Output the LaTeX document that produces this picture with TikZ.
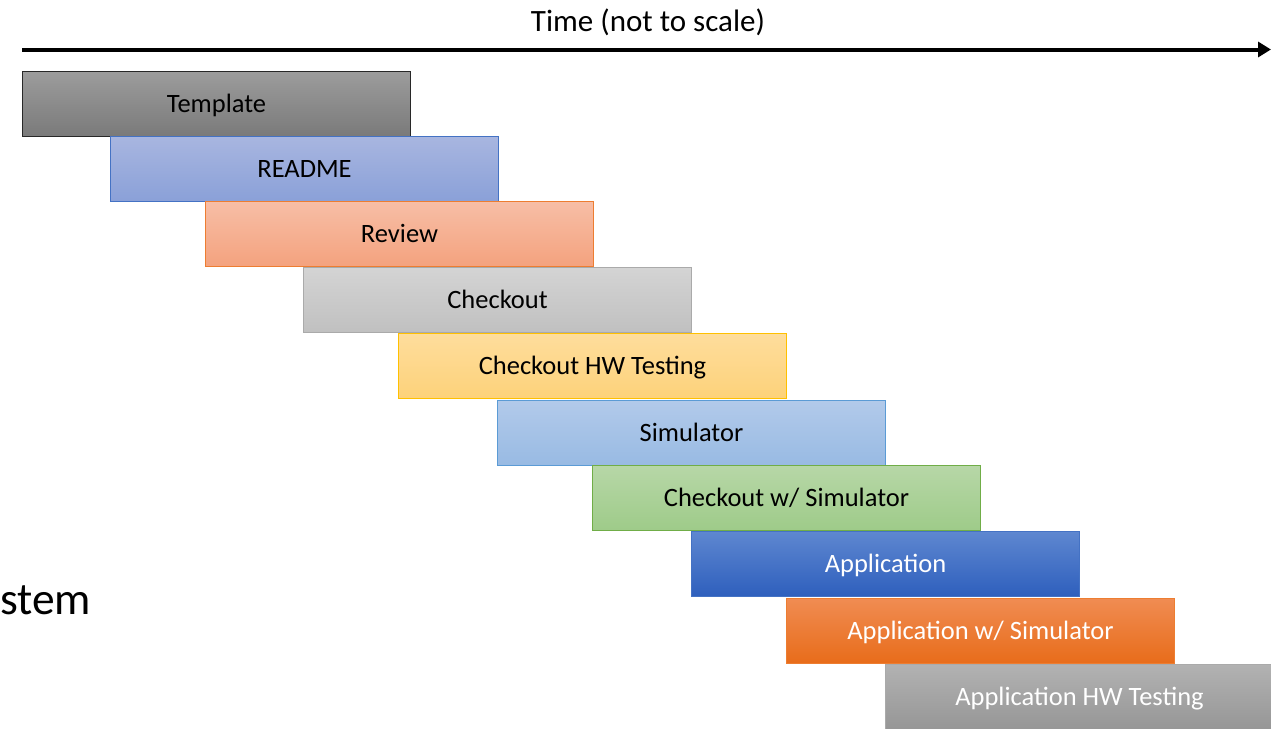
\documentclass[tikz,border=0pt]{standalone}
\usepackage{fontspec}
\setmainfont{Carlito}
\usetikzlibrary{arrows.meta}
% palette: border, top and bottom of each shaded bar
\definecolor{tplB}{RGB}{40,40,40}    \definecolor{tplT}{RGB}{156,156,156} \definecolor{tplD}{RGB}{122,122,122}
\definecolor{rdmB}{RGB}{68,114,196}  \definecolor{rdmT}{RGB}{168,182,224} \definecolor{rdmD}{RGB}{138,160,216}
\definecolor{revB}{RGB}{237,125,49}  \definecolor{revT}{RGB}{247,190,166} \definecolor{revD}{RGB}{244,162,126}
\definecolor{chkB}{RGB}{170,170,170} \definecolor{chkT}{RGB}{212,212,212} \definecolor{chkD}{RGB}{192,192,192}
\definecolor{hwB}{RGB}{255,192,0}    \definecolor{hwT}{RGB}{254,221,156}  \definecolor{hwD}{RGB}{253,210,122}
\definecolor{simB}{RGB}{91,155,213}  \definecolor{simT}{RGB}{178,202,234} \definecolor{simD}{RGB}{152,186,227}
\definecolor{csB}{RGB}{112,173,71}   \definecolor{csT}{RGB}{183,215,167}  \definecolor{csD}{RGB}{158,203,137}
\definecolor{appB}{RGB}{68,114,196}  \definecolor{appT}{RGB}{94,135,208}  \definecolor{appD}{RGB}{46,95,189}
\definecolor{asB}{RGB}{237,125,49}   \definecolor{asT}{RGB}{240,140,82}   \definecolor{asD}{RGB}{232,108,26}
\definecolor{ahB}{RGB}{170,170,170}  \definecolor{ahT}{RGB}{178,178,178}  \definecolor{ahD}{RGB}{150,150,150}
\tikzset{
  phase/.style={draw=#1B, line width=1pt, top color=#1T, bottom color=#1D,
    minimum width=388pt, minimum height=65pt, anchor=north west, inner sep=0pt,
    text height=17pt, text depth=0pt,
    font=\fontsize{26.5}{30}\selectfont},
}
\begin{document}
\begin{tikzpicture}[x=1pt,y=-1pt]
  \clip (0,0) rectangle (1271,728);
  % time axis
  \coordinate (t0) at (22,49.5);
  \coordinate (t1) at (1271,49.5);
  \draw[line width=4pt, -{Triangle[length=13pt,width=15pt]}] (t0) -- (t1);
  \node[anchor=base, inner sep=0pt, font=\fontsize{31}{36}\selectfont] (title) at (648,31) {Time (not to scale)};
  % phases
  \node[phase=tpl] (template) at (22,71) {Template};
  \node[phase=rdm] (readme) at (110,136) {README};
  \node[phase=rev] (review) at (205,201) {Review};
  \node[phase=chk] (checkout) at (303,267) {Checkout};
  \node[phase=hw] (chkhw) at (398,333) {Checkout HW Testing};
  \node[phase=sim] (sim) at (497,400) {Simulator};
  \node[phase=cs] (chksim) at (592,465) {Checkout w/ Simulator};
  \node[phase=app, text=white] (app) at (691,531) {Application};
  \node[phase=as, text=white] (appsim) at (786,598) {Application w/ Simulator};
  \node[phase=ah, text=white] (apphw) at (885,664) {Application HW Testing};
  % partially visible label at the left edge
  \node[anchor=base west, inner sep=0pt, font=\fontsize{45.5}{52}\selectfont] (stem) at (0,614) {stem};
\end{tikzpicture}
\end{document}
